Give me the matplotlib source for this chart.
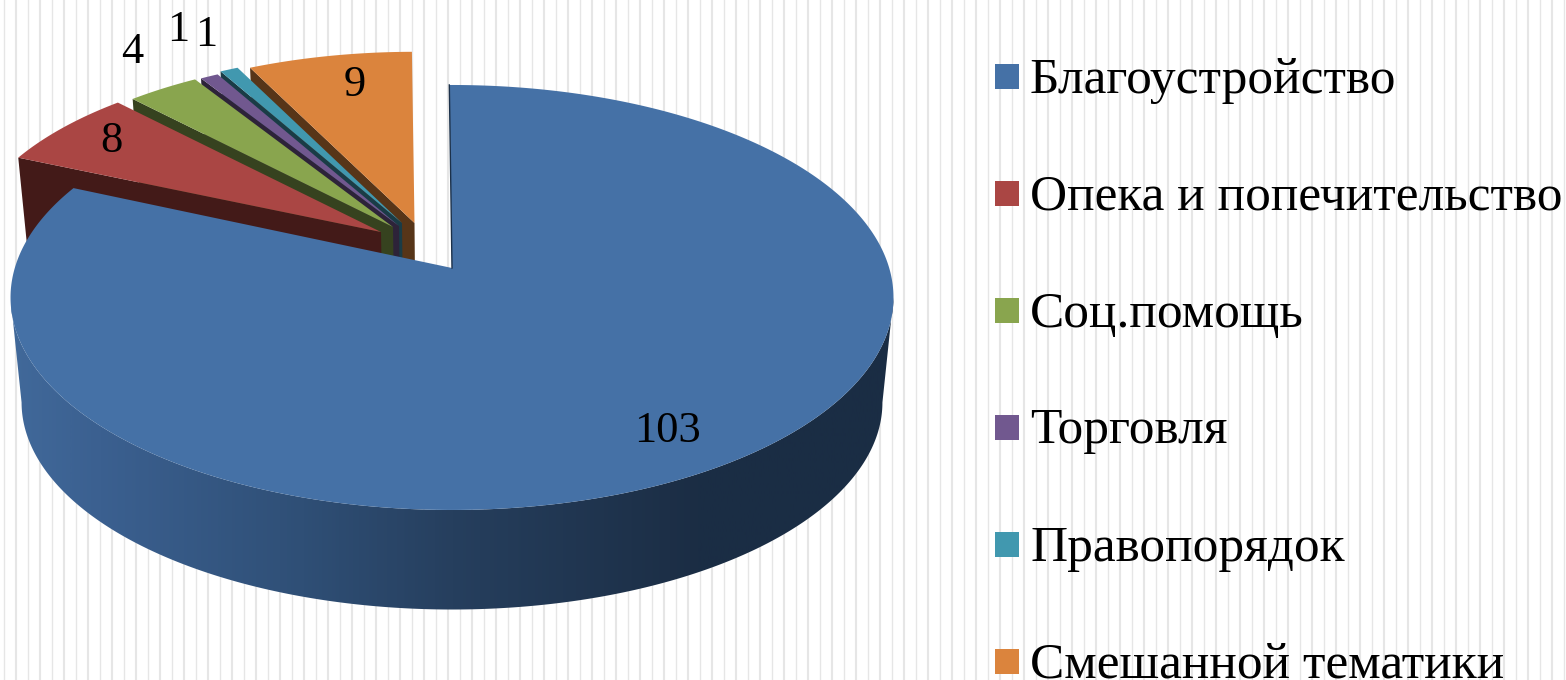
import numpy as np
import matplotlib
matplotlib.use("Agg")
import matplotlib.pyplot as plt
from matplotlib.patches import Polygon, Rectangle
from matplotlib.colors import LinearSegmentedColormap

categories = ["Благоустройство", "Опека и попечительство", "Соц.помощь",
              "Торговля", "Правопорядок", "Смешанной тематики"]
values = [103, 8, 4, 1, 1, 9]
colors = ["#4571a6", "#aa4644", "#89a54e", "#71588f", "#4198af", "#db843d"]
wall_colors = [None, "#431a18", "#36421f", "#2d2339", "#1a3c46", "#573518"]

# projection of the tilted disc, in pixel space
CX, CY = 452.0, 268.0
MAIN_GEOM = (437.2, 208.4, 0.1387)     # rx, ry, perspective of the large slice
PULLED_GEOM = (438.0, 202.7, 0.107)    # same for the pulled-out slices
BOTTOM_CY, BOTTOM_SCALE = 373.6, 0.975
START_DEG = -0.4
# where each slice's tip sits (pulled-out slices) and its radial scale
tips = [(CX, CY), (381, 232), (393, 227), (399, 226), (402, 223), (414.5, 223)]
scales = [1.0, 0.945, 0.935, 0.935, 0.935, 0.935]
label_pos = [(668, 431), (111, 141), (132, 52), (178, 30), (206, 35), (355, 85)]

W, H = 1566, 680
fig = plt.figure(figsize=(W / 100, H / 100), dpi=100, facecolor="white")
ax = fig.add_axes([0, 0, 1, 1])
ax.set_xlim(0, W)
ax.set_ylim(H, 0)
ax.axis("off")

# striped background
for i, x in enumerate(np.arange(4, W, 12)):
    ax.axvline(x, color="#e6e6e6", lw=1.5 if i % 2 else 1.0, zorder=0)


def project(theta_deg, geom, scale=1.0, tip=(CX, CY)):
    """Clockwise angle from 12 o'clock to a point on the slice's rim, on screen."""
    rx, ry, k = geom
    t = np.radians(theta_deg)
    ux, uy = np.sin(t), np.cos(t)
    w = 1 + k * uy
    return tip[0] + scale * rx * ux / w, tip[1] - scale * ry * uy / w


def extrude(x, y):
    x, y = np.asarray(x, float), np.asarray(y, float)
    return CX + BOTTOM_SCALE * (x - CX), BOTTOM_CY + BOTTOM_SCALE * (y - CY)


total = sum(values)
spans = np.array(values) / total * 360
starts = START_DEG + np.concatenate([[0], np.cumsum(spans)[:-1]])
zo = 2

# pulled-out slices, back to front
for i in range(len(values) - 1, 0, -1):
    tx, ty = tips[i]
    a0, a1 = starts[i], starts[i] + spans[i]
    th = np.linspace(a0, a1, 60)
    x, y = project(th, PULLED_GEOM, scales[i], tips[i])
    # wall along the slice's left edge
    xs = np.array([x[0], tx])
    ys = np.array([y[0], ty])
    bx, by = extrude(xs, ys)
    wall = np.column_stack([np.r_[xs, bx[::-1]], np.r_[ys, by[::-1]]])
    ax.add_patch(Polygon(wall, closed=True, fc=wall_colors[i], ec="none", zorder=zo))
    zo += 1
    top = np.column_stack([np.r_[tx, x], np.r_[ty, y]])
    ax.add_patch(Polygon(top, closed=True, fc=colors[i], ec="none", zorder=zo))
    zo += 1

# large slice: shaded side wall
th = np.linspace(0, 360, 1441)
px, py = project(th, MAIN_GEOM)
il = int(np.argmin(px))
ir = int(np.argmax(px))
fth = np.linspace(th[ir], th[il], 500)
fx, fy = project(fth, MAIN_GEOM)
bx, by = extrude(fx, fy)
side = np.column_stack([np.r_[fx, bx[::-1]], np.r_[fy, by[::-1]]])
cmap = LinearSegmentedColormap.from_list(
    "side", [(0.0, "#41699a"), (0.1, "#3b6090"), (0.33, "#2f4f76"),
             (0.5, "#263f5e"), (0.78, "#1b2d44"), (1.0, "#1a2d44")])
xg = np.linspace(0, 1, 512).reshape(1, -1)
im = ax.imshow(xg, cmap=cmap, extent=(fx.min(), fx.max(), 700, 0),
               aspect="auto", zorder=zo)
clip = Polygon(side, closed=True, transform=ax.transData, fc="none", ec="none")
im.set_clip_path(clip)
ax.set_xlim(0, W)
ax.set_ylim(H, 0)
zo += 1

th = np.linspace(starts[0], starts[0] + spans[0], 800)
x, y = project(th, MAIN_GEOM)
top = np.column_stack([np.r_[CX, x], np.r_[CY, y]])
ax.add_patch(Polygon(top, closed=True, fc=colors[0], ec="none", zorder=zo))
zo += 1
ax.plot([x[0], CX], [y[0], CY], color="#1c314a", lw=1.0, zorder=zo)

# value labels
serif = ["Liberation Serif", "DejaVu Serif"]
for v, (lx, ly) in zip(values, label_pos):
    ax.text(lx, ly, str(v), fontsize=32, family=serif, color="black",
            ha="center", va="center", zorder=50)

# legend
for i, (name, col) in enumerate(zip(categories, colors)):
    yc = 76 + i * 117.0
    ax.add_patch(Rectangle((995, yc - 12.5), 24, 25, fc=col, ec="none", zorder=50))
    ax.text(1030, yc + 16.5, name, fontsize=37, family=serif, color="black",
            ha="left", va="baseline", zorder=50, clip_on=True)

fig.savefig("out.png", dpi=100, facecolor="white")
